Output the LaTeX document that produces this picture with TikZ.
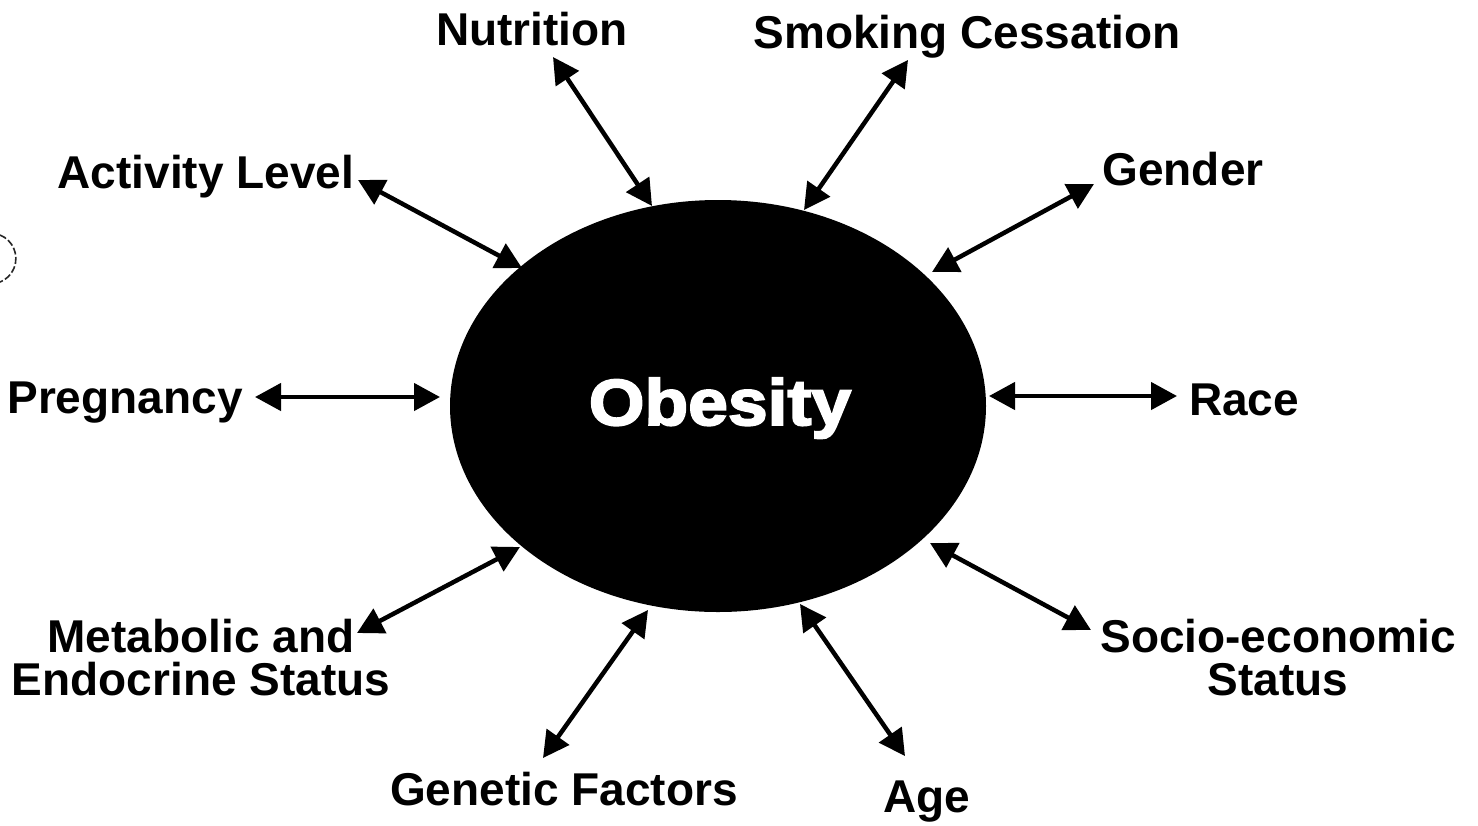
\documentclass[tikz,border=0pt]{standalone}
\usepackage{fontspec}
\setmainfont{Liberation Sans}
\newfontfamily\obfont[BoldFeatures={FakeBold=3,FakeStretch=1.1}]{Liberation Sans}
\usetikzlibrary{arrows.meta,shapes.geometric}
\tikzset{
  lbl/.style={font=\fontsize{46}{43}\selectfont\bfseries, inner sep=0pt, anchor=base, align=center, text=black},
  link/.style={line width=4.5pt, draw=black, {Triangle[length=26pt,width=27pt]}-{Triangle[length=26pt,width=27pt]}},
  blob/.style={ellipse, fill=black, minimum width=536pt, minimum height=412pt, inner sep=0pt},
  punch/.style={line width=1.6pt, draw=black!85, dash pattern=on 7pt off 2.5pt}
}
\begin{document}
\begin{tikzpicture}[x=1pt,y=-1pt]
\useasboundingbox[fill=white] (0,0) rectangle (1478,825);
% central ellipse
\node[blob] (ob) at (718,406) {};
\node[font=\obfont\bfseries\fontsize{65}{65}\selectfont, text=white, inner sep=0pt, anchor=base] (obt) at (720,425) {Obesity};
% labels
\node[lbl] (nut) at (532,45) {Nutrition};
\node[lbl] (smk) at (967,48) {Smoking Cessation};
\node[lbl] (act) at (206,188) {Activity Level};
\node[lbl] (gen) at (1183,185) {Gender};
\node[lbl] (prg) at (125,413) {Pregnancy};
\node[lbl] (rac) at (1244,415) {Race};
\node[lbl] (met) at (201,695) {Metabolic and\\Endocrine Status};
\node[lbl] (soc) at (1278,695) {Socio-economic\\Status};
\node[lbl] (gnf) at (564,805) {Genetic Factors};
\node[lbl] (age) at (927,812) {Age};
% arrow end points
\coordinate (nutA) at (553,57);   \coordinate (nutB) at (652,206);
\coordinate (smkA) at (908,60);   \coordinate (smkB) at (804,210);
\coordinate (actA) at (358,180);  \coordinate (actB) at (522,268);
\coordinate (genA) at (1094,184); \coordinate (genB) at (932,272);
\coordinate (prgA) at (255,397);  \coordinate (prgB) at (440,397);
\coordinate (racA) at (1177,396); \coordinate (racB) at (989,396);
\coordinate (metA) at (357,633);  \coordinate (metB) at (520,547);
\coordinate (socA) at (1091,630); \coordinate (socB) at (930,543);
\coordinate (gnfA) at (543,758);  \coordinate (gnfB) at (648,610);
\coordinate (ageA) at (905,756);  \coordinate (ageB) at (800,604);
\foreach \n in {nut,smk,act,gen,prg,rac,met,soc,gnf,age}
  \draw[link] (\n A) -- (\n B);
% hole-punch trace at the left edge
\draw[punch] (0,235) arc[start angle=112, end angle=248, radius=-25.4];
\end{tikzpicture}
\end{document}
